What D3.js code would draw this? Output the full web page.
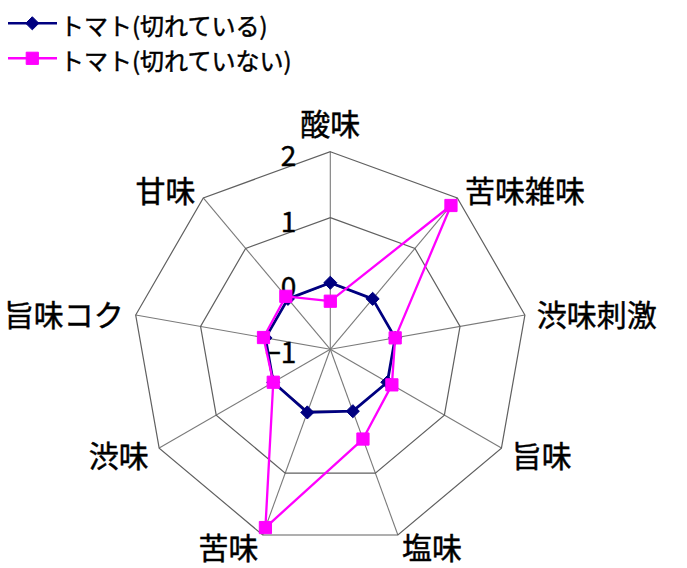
<!DOCTYPE html>
<html>
<head>
<meta charset="utf-8">
<script src="https://cdn.jsdelivr.net/npm/d3@7"></script>
<style>
  html, body { margin: 0; padding: 0; background: #fff; }
  svg { display: block; }
  text { font-family: "Noto Sans CJK JP", "Noto Sans", sans-serif; fill: #000; stroke: #000; stroke-width: 0.45px; }
</style>
</head>
<body>
<script>
const categories = ["酸味", "苦味雑味", "渋味刺激", "旨味", "塩味", "苦味", "渋味", "旨味コク", "甘味"];
const seriesNames = ["トマト(切れている)", "トマト(切れていない)"];
const cutValues = [0.01, 0, 0, 0, 0, 0.02, 0, 0, 0];
const uncutValues = [-0.27, 1.85, 0, 0.08, 0.45, 1.88, 0, 0.03, 0.05];
const tickValues = [-1, 0, 1, 2];
const seriesColors = ["#000080", "#FF00FF"];

const W = 687, H = 568;
const cx = 330.3, cy = 349.3, R = 197.6;

const svg = d3.select("body").append("svg").attr("width", W).attr("height", H);
svg.append("rect").attr("width", W).attr("height", H).attr("fill", "#fff");

const r = d3.scaleLinear().domain([-1, 2]).range([0, R]);
const angle = d3.scalePoint().domain(categories).range([0, 2 * Math.PI * (categories.length - 1) / categories.length]);
const pt = (cat, v) => {
  const a = angle(cat);
  return [cx + r(v) * Math.sin(a), cy - r(v) * Math.cos(a)];
};

const g = svg.append("g");
// spokes
g.selectAll("line.spoke").data(categories).join("line")
  .attr("x1", cx).attr("y1", cy)
  .attr("x2", d => pt(d, 2)[0]).attr("y2", d => pt(d, 2)[1])
  .attr("stroke", "#7a7a7a").attr("stroke-width", 1.1);
// rings
const ringVals = tickValues.filter(t => t > -1);
g.selectAll("polygon.ring").data(ringVals).join("polygon")
  .attr("points", t => categories.map(c => pt(c, t).join(",")).join(" "))
  .attr("fill", "none").attr("stroke", "#606060").attr("stroke-width", 1.2);

// tick labels
const fmt = d3.format("d");
g.selectAll("text.tick").data(tickValues).join("text")
  .attr("x", cx - 34).attr("y", t => cy - r(t) + 2)
  .attr("text-anchor", "end").attr("dominant-baseline", "central")
  .attr("font-size", 28).text(t => fmt(t));

// category labels
g.selectAll("text.cat").data(categories).join("text")
  .each(function(c) {
    const a = angle(c);
    const [vx, vy] = pt(c, 2);
    const s = Math.sin(a), co = Math.cos(a);
    const x = vx + 12 * s;
    let y = vy - 12 * co;
    if (co > 0.99) y -= 18;
    const anchor = Math.abs(s) < 0.01 ? "middle" : (s > 0 ? "start" : "end");
    d3.select(this).attr("x", x).attr("y", y)
      .attr("text-anchor", anchor).attr("dominant-baseline", "central")
      .attr("font-size", 30).text(c);
  });

// series
const seriesData = [cutValues, uncutValues];
const line = d3.line();
seriesData.forEach((vals, i) => {
  const pts = categories.map((c, j) => pt(c, vals[j]));
  g.append("path").attr("d", line(pts) + "Z")
    .attr("fill", "none").attr("stroke", seriesColors[i])
    .attr("stroke-width", i === 0 ? 2.8 : 2.3).attr("stroke-linejoin", "round");
  const sym = d3.symbol().type(i === 0 ? d3.symbolDiamond2 : d3.symbolSquare2).size(i === 0 ? 110 : 190);
  g.selectAll(null).data(pts).join("path")
    .attr("transform", d => `translate(${d[0]},${d[1]})`)
    .attr("d", sym)
    .attr("fill", seriesColors[i]).attr("stroke", seriesColors[i]).attr("stroke-width", 1);
});

// legend
const leg = svg.append("g");
const legY = [23.3, 58.3];
seriesNames.forEach((name, i) => {
  leg.append("line").attr("x1", 8).attr("x2", 57).attr("y1", legY[i]).attr("y2", legY[i])
    .attr("stroke", seriesColors[i]).attr("stroke-width", 2.5);
  const sym = d3.symbol().type(i === 0 ? d3.symbolDiamond2 : d3.symbolSquare2).size(i === 0 ? 110 : 190);
  leg.append("path").attr("transform", `translate(32.3,${legY[i]})`).attr("d", sym)
    .attr("fill", seriesColors[i]).attr("stroke", seriesColors[i]);
  leg.append("text").attr("x", 60).attr("y", legY[i] + 1).attr("dominant-baseline", "central")
    .attr("font-size", 24).text(name);
});
</script>
</body>
</html>
